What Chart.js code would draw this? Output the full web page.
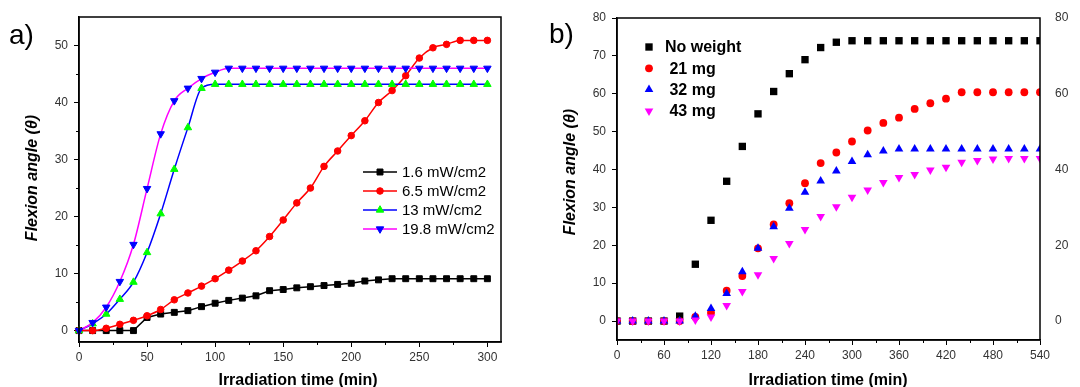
<!DOCTYPE html>
<html>
<head>
<meta charset="utf-8">
<script src="https://cdn.jsdelivr.net/npm/chart.js@4/dist/chart.umd.min.js"></script>
<style>
  html, body { margin: 0; padding: 0; background: #fff; }
  #wrap { position: relative; width: 1080px; height: 387px; overflow: hidden; }
  canvas { position: absolute; top: 0; }
  #chartA { left: 0; }
  #chartB { left: 540px; }
</style>
</head>
<body>
<div id="wrap">
  <canvas id="chartA" width="540" height="387"></canvas>
  <canvas id="chartB" width="540" height="387"></canvas>
</div>
<script>
/* global Chart */

const SANS = '"Liberation Sans", Arial, sans-serif';

// ---- panel a) : bending under different light intensities ----
const A_TIME = [0, 10, 20, 30, 40, 50, 60, 70, 80, 90, 100, 110, 120, 130, 140, 150,
                160, 170, 180, 190, 200, 210, 220, 230, 240, 250, 260, 270, 280, 290, 300];
const A_LABELS = ['1.6 mW/cm2', '6.5 mW/cm2', '13 mW/cm2', '19.8 mW/cm2'];
const A_P16 = [0, 0, 0, 0, 0, 2.3, 2.9, 3.2, 3.5, 4.2, 4.8, 5.3, 5.7, 6.1, 7.0, 7.2,
               7.5, 7.7, 7.9, 8.1, 8.3, 8.7, 8.9, 9.1, 9.1, 9.1, 9.1, 9.1, 9.1, 9.1, 9.1];
const A_P65 = [0, 0, 0.4, 1.1, 1.8, 2.6, 3.7, 5.4, 6.6, 7.8, 9.1, 10.6, 12.2, 14.0, 16.5, 19.4,
               22.4, 25.0, 28.8, 31.5, 34.2, 36.8, 40.0, 42.1, 44.7, 47.8, 49.6, 50.2, 50.9, 50.9, 50.9];
const A_P13 = [0, 1.2, 2.9, 5.5, 8.5, 13.7, 20.5, 28.3, 35.6, 42.5, 43.2, 43.2, 43.2, 43.2, 43.2, 43.2,
               43.2, 43.2, 43.2, 43.2, 43.2, 43.2, 43.2, 43.2, 43.2, 43.2, 43.2, 43.2, 43.2, 43.2, 43.2];
const A_P198 = [0, 1.4, 4.1, 8.6, 15.1, 24.9, 34.5, 40.3, 42.5, 44.2, 45.3, 46.0, 46.0, 46.0, 46.0, 46.0,
                46.0, 46.0, 46.0, 46.0, 46.0, 46.0, 46.0, 46.0, 46.0, 46.0, 46.0, 46.0, 46.0, 46.0, 46.0];
const A_X_TICKS = [0, 50, 100, 150, 200, 250, 300];
const A_X_MINOR = [25, 75, 125, 175, 225, 275];
const A_Y_TICKS = [0, 10, 20, 30, 40, 50];
const A_Y_MINOR = [5, 15, 25, 35, 45];

// ---- panel b) : bending with a load attached ----
const B_TIME = [0, 20, 40, 60, 80, 100, 120, 140, 160, 180, 200, 220, 240, 260,
                280, 300, 320, 340, 360, 380, 400, 420, 440, 460, 480, 500, 520, 540];
const B_LABELS = ['No weight', ' 21 mg', ' 32 mg', ' 43 mg'];
const B_NONE = [0, 0, 0, 0, 1.3, 15.0, 26.6, 36.9, 46.1, 54.7, 60.6, 65.3, 69.0, 72.2,
                73.6, 74.0, 74.0, 74.0, 74.0, 74.0, 74.0, 74.0, 74.0, 74.0, 74.0, 74.0, 74.0, 74.0];
const B_21 = [0, 0, 0, 0, 0, 1.1, 2.2, 8.0, 11.9, 19.2, 25.5, 31.1, 36.4, 41.7,
              44.5, 47.4, 50.3, 52.3, 53.7, 56.0, 57.5, 58.7, 60.4, 60.4, 60.4, 60.4, 60.4, 60.4];
const B_32 = [0, 0, 0, 0, 0, 1.3, 3.3, 7.3, 13.0, 19.2, 24.9, 29.8, 34.0, 37.0,
              39.6, 42.1, 43.9, 44.9, 45.4, 45.4, 45.4, 45.4, 45.4, 45.4, 45.4, 45.4, 45.4, 45.4];
const B_43 = [0, 0, 0, 0, 0, 0.3, 1.1, 4.1, 7.8, 12.2, 16.5, 20.5, 24.2, 27.6,
              30.2, 32.7, 34.6, 36.6, 37.9, 38.7, 39.9, 40.6, 41.9, 42.4, 42.8, 42.9, 42.9, 42.9];
const B_X_TICKS = [0, 60, 120, 180, 240, 300, 360, 420, 480, 540];
const B_X_MINOR = [30, 90, 150, 210, 270, 330, 390, 450, 510];
const B_Y_TICKS = [0, 10, 20, 30, 40, 50, 60, 70, 80];
const B_Y2_TICKS = [0, 20, 40, 60, 80];

const pts = (xs, ys) => xs.map((x, i) => ({ x, y: ys[i] }));
const fixedTicks = list => scale => { scale.ticks = list.map(value => ({ value })); };

// box around the plot + the short minor ticks
const framePlugin = {
    id: 'frame',
    afterDatasetsDraw(chart, args, opts) {
        const { ctx, chartArea: a, scales } = chart;
        ctx.save();
        ctx.strokeStyle = '#000';
        ctx.lineWidth = 1.5;
        ctx.strokeRect(a.left, a.top, a.right - a.left, a.bottom - a.top);
        ctx.lineWidth = 1;
        ctx.beginPath();
        (opts.xMinor || []).forEach(v => {
            const px = Math.round(scales.x.getPixelForValue(v)) + 0.5;
            ctx.moveTo(px, a.bottom); ctx.lineTo(px, a.bottom + 3);
        });
        (opts.yMinor || []).forEach(v => {
            const py = Math.round(scales.y.getPixelForValue(v)) + 0.5;
            ctx.moveTo(a.left, py); ctx.lineTo(a.left - 3, py);
        });
        ctx.stroke();
        ctx.restore();
    }
};

// legend drawn inside the plot, rows of marker (+ line) and label
const insetLegend = {
    id: 'insetLegend',
    afterDraw(chart, args, o) {
        const { ctx } = chart;
        ctx.save();
        ctx.font = o.font;
        ctx.fillStyle = '#000';
        ctx.textBaseline = 'middle';
        chart.data.datasets.forEach((ds, i) => {
            const y = o.top + i * o.rowGap;
            if (o.lineLen) {
                ctx.strokeStyle = ds.borderColor;
                ctx.lineWidth = ds.borderWidth;
                ctx.beginPath();
                ctx.moveTo(o.markX - o.lineLen / 2, y);
                ctx.lineTo(o.markX + o.lineLen / 2, y);
                ctx.stroke();
            }
            ctx.fillStyle = ds.pointBackgroundColor;
            ctx.strokeStyle = ds.pointBorderColor;
            ctx.lineWidth = ds.pointBorderWidth || 0;
            Chart.helpers.drawPoint(ctx, {
                pointStyle: ds.pointStyle,
                radius: ds.pointRadius,
                rotation: ds.pointRotation || 0,
                borderWidth: ds.pointBorderWidth || 0
            }, o.markX, y);
            ctx.fillStyle = '#000';
            ctx.fillText(ds.label, o.textX, y + 1);
        });
        ctx.restore();
    }
};

// panel letter and axis titles
const captions = {
    id: 'captions',
    afterDraw(chart, args, o) {
        const { ctx, chartArea: a } = chart;
        ctx.save();
        ctx.fillStyle = '#000';
        ctx.textBaseline = 'alphabetic';
        ctx.font = '28px ' + SANS;
        ctx.fillText(o.panel, o.panelX, o.panelY);

        ctx.font = 'bold 16px ' + SANS;
        ctx.textAlign = 'center';
        ctx.fillText('Irradiation time (min)', o.xTitleX, 385);

        ctx.font = 'italic bold 16px ' + SANS;
        ctx.translate(o.yTitleX, o.yTitleY);
        ctx.rotate(-Math.PI / 2);
        ctx.textBaseline = 'middle';
        ctx.fillText('Flexion angle (\u03b8)', 0, 0);
        ctx.restore();
    }
};

const tickFont = { family: SANS, size: 12 };

function axis(min, max, ticks, fit) {
    return {
        type: 'linear',
        min, max,
        afterBuildTicks: fixedTicks(ticks),
        afterFit: fit,
        grid: { drawOnChartArea: false, tickLength: 5, tickColor: '#000', tickWidth: 1 },
        border: { color: '#000', width: 1.5 },
        ticks: { font: tickFont, color: '#333', padding: 3, maxRotation: 0, autoSkip: false }
    };
}

function lineSet(label, data, line, fill, style, radius, rot, mode) {
    return {
        label, data,
        borderColor: line, borderWidth: 1.5,
        backgroundColor: fill,
        pointBackgroundColor: fill, pointBorderColor: fill, pointBorderWidth: 1,
        pointStyle: style, pointRadius: radius, pointRotation: rot || 0,
        tension: mode ? 0 : 0,
        cubicInterpolationMode: mode || 'default',
        clip: false
    };
}

new Chart(document.getElementById('chartA'), {
    type: 'line',
    data: {
        datasets: [
            lineSet(A_LABELS[0], pts(A_TIME, A_P16), '#000000', '#000000', 'rect', 4.2, 0, null),
            lineSet(A_LABELS[1], pts(A_TIME, A_P65), '#ff0000', '#ff0000', 'circle', 3.3, 0, 'monotone'),
            lineSet(A_LABELS[2], pts(A_TIME, A_P13), '#0000ff', '#00ff00', 'triangle', 4.3, 0, 'monotone'),
            lineSet(A_LABELS[3], pts(A_TIME, A_P198), '#ff00ff', '#0000ff', 'triangle', 4.3, 180, 'monotone')
        ].map((d, i) => ({ ...d, order: 3 - i }))
    },
    options: {
        responsive: false,
        animation: false,
        events: [],
        layout: { padding: { top: 17, right: 39, left: 0, bottom: 0 } },
        scales: {
            x: axis(0, 310, A_X_TICKS, s => { s.height = 45; }),
            y: { ...axis(-2, 55, A_Y_TICKS, s => { s.width = 79; }),
                 ticks: { font: tickFont, color: '#333', padding: 6 } }
        },
        plugins: {
            legend: { display: false },
            tooltip: { enabled: false },
            frame: { xMinor: A_X_MINOR, yMinor: A_Y_MINOR },
            insetLegend: { font: '15px ' + SANS, top: 172, rowGap: 19, markX: 380, lineLen: 34, textX: 402 },
            captions: { panel: 'a)', panelX: 9, panelY: 44, xTitleX: 298, yTitleX: 33, yTitleY: 178 }
        }
    },
    plugins: [framePlugin, insetLegend, captions]
});

function dotSet(label, data, color, style, radius, rot) {
    return {
        label, data,
        showLine: false,
        borderColor: color, borderWidth: 0,
        backgroundColor: color,
        pointBackgroundColor: color, pointBorderColor: color, pointBorderWidth: 0,
        pointStyle: style, pointRadius: radius, pointRotation: rot || 0
    };
}

new Chart(document.getElementById('chartB'), {
    type: 'line',
    data: {
        datasets: [
            dotSet(B_LABELS[0], pts(B_TIME, B_NONE), '#000000', 'rect', 5.2),
            dotSet(B_LABELS[1], pts(B_TIME, B_21), '#ff0000', 'circle', 3.9),
            dotSet(B_LABELS[2], pts(B_TIME, B_32), '#0000ff', 'triangle', 5.0),
            dotSet(B_LABELS[3], pts(B_TIME, B_43), '#ff00ff', 'triangle', 5.0, 180)
        ].map((d, i) => ({ ...d, order: 3 - i }))
    },
    options: {
        responsive: false,
        animation: false,
        events: [],
        layout: { padding: { top: 18, right: 0, left: 0, bottom: 0 } },
        scales: {
            x: axis(0, 540, B_X_TICKS, s => { s.height = 47; }),
            y: { ...axis(-5, 80, B_Y_TICKS, s => { s.width = 77; }),
                 ticks: { font: tickFont, color: '#333', padding: 6 } },
            y2: {
                type: 'linear', position: 'right',
                min: -5, max: 80,
                afterBuildTicks: fixedTicks(B_Y2_TICKS),
                afterFit: s => { s.width = 40; },
                grid: { display: false },
                border: { display: false },
                ticks: { font: tickFont, color: '#333', padding: 7 }
            }
        },
        plugins: {
            legend: { display: false },
            tooltip: { enabled: false },
            frame: { xMinor: B_X_MINOR, yMinor: [] },
            insetLegend: { font: 'bold 16px ' + SANS, top: 47, rowGap: 21.3, markX: 109, lineLen: 0, textX: 125 },
            captions: { panel: 'b)', panelX: 9, panelY: 43, xTitleX: 288, yTitleX: 31, yTitleY: 172 }
        }
    },
    plugins: [framePlugin, insetLegend, captions]
});
</script>
</body>
</html>
